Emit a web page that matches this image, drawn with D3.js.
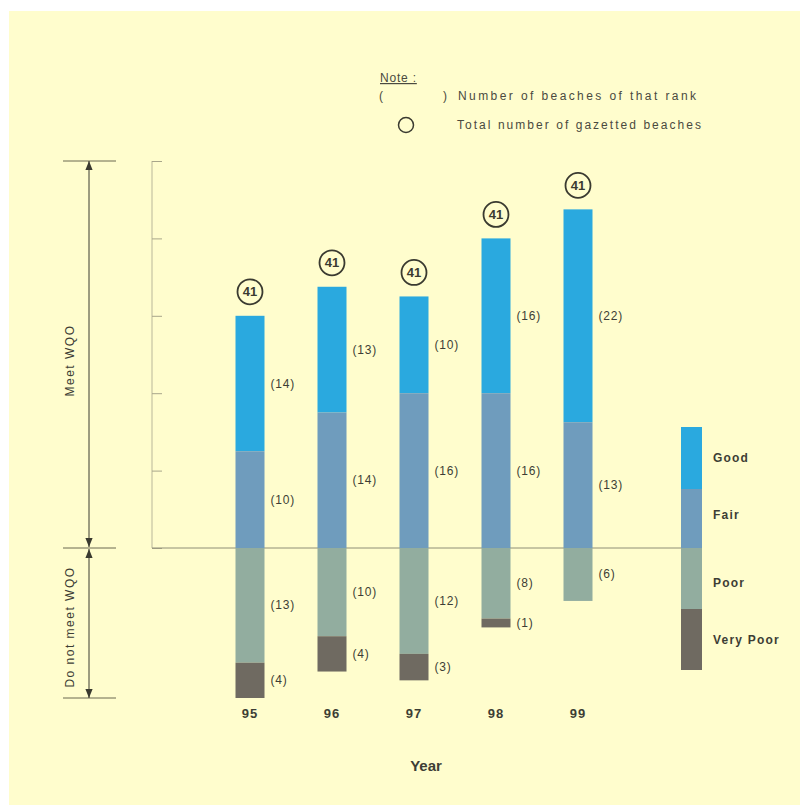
<!DOCTYPE html>
<html><head><meta charset="utf-8">
<script src="https://cdn.jsdelivr.net/npm/d3@7"></script>
<style>html,body{margin:0;background:#fffdcd;overflow:hidden;}svg{display:block;font-family:"Liberation Sans",Arial,sans-serif;}</style>
</head><body>
<svg id="c" width="800" height="805"></svg>
<script>
const years = ["95","96","97","98","99"];
const good = [14, 13, 10, 16, 22];
const fair = [10, 14, 16, 16, 13];
const poor = [13, 10, 12, 8, 6];
const veryPoor = [4, 4, 3, 1, 0];
const totals = [41, 41, 41, 41, 41];
const rankNames = ["Good", "Fair", "Poor", "Very Poor"];
const rankColors = ["#2aa9df", "#6f9cbd", "#92ad9f", "#6f6a61"];
const axisTicks = [0, 8, 16, 24, 32, 40];

const svg = d3.select("#c");
svg.append("rect").attr("x", 0).attr("y", 0).attr("width", 800).attr("height", 805).attr("fill", "#fffdcd");
svg.append("rect").attr("x", 0).attr("y", 0).attr("width", 800).attr("height", 11).attr("fill", "#ffffff");
svg.append("rect").attr("x", 0).attr("y", 0).attr("width", 9).attr("height", 805).attr("fill", "#ffffff");

const x = d3.scalePoint().domain(years).range([250, 578]);
const y = d3.scaleLinear().domain([-17, 0, 40]).range([698, 548, 161]);
const bw = 29;
const ink = "#3a3a30";
const txt = "#3d3d35";

// axis
const axisG = svg.append("g").attr("transform", "translate(152,0)");
axisG.call(d3.axisRight(y).tickValues(axisTicks).tickSize(10).tickFormat(""));
axisG.select(".domain").attr("stroke", "#b9b79a").attr("d", `M0,${y(40)}V${y(0)}`);
axisG.selectAll(".tick line").attr("stroke", "#a8a68a");

// baseline
svg.append("line").attr("x1", 152).attr("x2", 681).attr("y1", y(0)).attr("y2", y(0))
  .attr("stroke", "#8f8e76").attr("stroke-width", 1);

// stacked bars
const rows = years.map((yr, i) => ({yr, g: good[i], f: fair[i], p: poor[i], v: veryPoor[i], t: totals[i]}));
rows.forEach(d => {
  const segs = [
    {k: 0, a: d.f, b: d.f + d.g, val: d.g},
    {k: 1, a: 0, b: d.f, val: d.f},
    {k: 2, a: -d.p, b: 0, val: d.p},
    {k: 3, a: -d.p - d.v, b: -d.p, val: d.v}
  ].filter(s => s.val > 0);
  const g = svg.append("g");
  g.selectAll("rect").data(segs).join("rect")
    .attr("x", x(d.yr) - bw / 2).attr("width", bw)
    .attr("y", s => y(s.b)).attr("height", s => y(s.a) - y(s.b))
    .attr("fill", s => rankColors[s.k]);
  g.selectAll("text").data(segs).join("text")
    .attr("x", x(d.yr) + bw / 2 + 6)
    .attr("y", s => (y(s.a) + y(s.b)) / 2 + 4)
    .attr("font-size", 12).attr("letter-spacing", 0.8).attr("fill", txt)
    .text(s => `(${s.val})`);
  const top = y(d.f + d.g);
  g.append("circle").attr("cx", x(d.yr)).attr("cy", top - 24).attr("r", 12.5)
    .attr("fill", "none").attr("stroke", ink).attr("stroke-width", 1.8);
  g.append("text").attr("x", x(d.yr)).attr("y", top - 19.5).attr("text-anchor", "middle")
    .attr("font-size", 13).attr("font-weight", "bold").attr("fill", ink).text(d.t);
  svg.append("text").attr("x", x(d.yr)).attr("y", 718).attr("text-anchor", "middle")
    .attr("font-size", 13).attr("font-weight", "bold").attr("letter-spacing", 1).attr("fill", txt).text(d.yr);
});

svg.append("text").attr("x", 426).attr("y", 771).attr("text-anchor", "middle")
  .attr("font-size", 15).attr("font-weight", "bold").attr("fill", txt).text("Year");

// left WQO bracket
const defs = svg.append("defs");
defs.append("marker").attr("id", "ar").attr("viewBox", "0 0 10 10").attr("refX", 10).attr("refY", 5)
  .attr("markerWidth", 9).attr("markerHeight", 9).attr("orient", "auto-start-reverse").attr("markerUnits", "userSpaceOnUse")
  .append("path").attr("d", "M0,1L10,5L0,9Z").attr("fill", ink);
[y(40), y(0), y(-17)].forEach(v => {
  svg.append("line").attr("x1", 63).attr("x2", 116).attr("y1", v).attr("y2", v).attr("stroke", "#6a6850").attr("stroke-width", 1);
});
svg.append("line").attr("x1", 89).attr("x2", 89).attr("y1", y(40)).attr("y2", y(0) - 1)
  .attr("stroke", ink).attr("marker-start", "url(#ar)").attr("marker-end", "url(#ar)");
svg.append("line").attr("x1", 89).attr("x2", 89).attr("y1", y(0) + 1).attr("y2", y(-17))
  .attr("stroke", ink).attr("marker-start", "url(#ar)").attr("marker-end", "url(#ar)");
svg.append("text").attr("transform", `translate(74,${(y(40) + y(0)) / 2 + 6}) rotate(-90)`)
  .attr("text-anchor", "middle").attr("font-size", 12).attr("letter-spacing", 1.5).attr("fill", txt).text("Meet WQO");
svg.append("text").attr("transform", `translate(74,${(y(0) + y(-17)) / 2 + 4}) rotate(-90)`)
  .attr("text-anchor", "middle").attr("font-size", 12).attr("letter-spacing", 1.5).attr("fill", txt).text("Do not meet WQO");

// legend bar
const legTop = [427, 489, 548, 609], legH = [62, 59, 61, 61], legLabY = [462, 519, 587, 644];
rankNames.forEach((n, i) => {
  svg.append("rect").attr("x", 681).attr("y", legTop[i]).attr("width", 21).attr("height", legH[i]).attr("fill", rankColors[i]);
  svg.append("text").attr("x", 713).attr("y", legLabY[i]).attr("font-size", 12).attr("font-weight", "bold")
    .attr("letter-spacing", 1.2).attr("fill", txt).text(n);
});

// note
const noteC = "#4a4a40";
svg.append("text").attr("x", 380).attr("y", 82).attr("font-size", 12).attr("fill", noteC)
  .attr("text-decoration", "underline").attr("letter-spacing", 0.8).text("Note :");
svg.append("text").attr("x", 379).attr("y", 100).attr("font-size", 12).attr("fill", noteC).text("(");
svg.append("text").attr("x", 443).attr("y", 100).attr("font-size", 12).attr("fill", noteC).text(")");
svg.append("text").attr("x", 458).attr("y", 100).attr("font-size", 12).attr("fill", noteC)
  .attr("textLength", 238).attr("lengthAdjust", "spacing").text("Number of beaches of that rank");
svg.append("circle").attr("cx", 406).attr("cy", 125).attr("r", 7.5).attr("fill", "none").attr("stroke", ink).attr("stroke-width", 1.5);
svg.append("text").attr("x", 457).attr("y", 129).attr("font-size", 12).attr("fill", noteC)
  .attr("textLength", 244).attr("lengthAdjust", "spacing").text("Total number of gazetted beaches");
</script>
</body></html>
